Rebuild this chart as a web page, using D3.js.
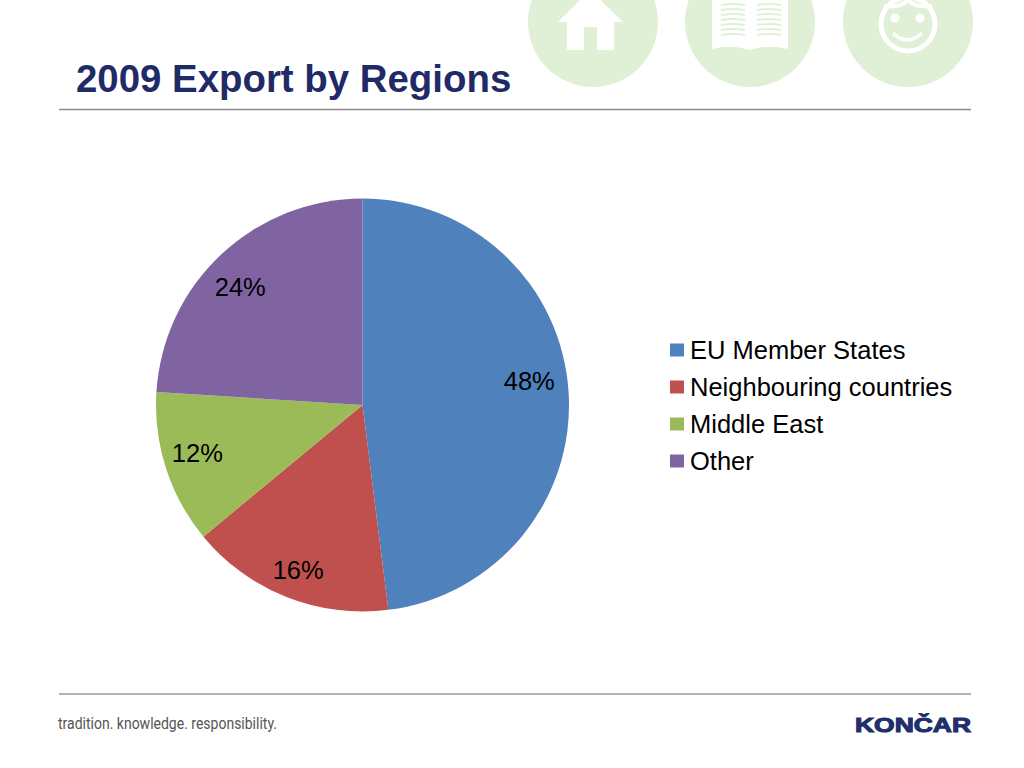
<!DOCTYPE html>
<html>
<head>
<meta charset="utf-8">
<script src="https://cdn.jsdelivr.net/npm/d3@7"></script>
<style>
html, body { margin: 0; padding: 0; background: #fff; }
svg { display: block; font-family: "Liberation Sans", Arial, sans-serif; }
</style>
</head>
<body>
<script>
var categories = ["EU Member States", "Neighbouring countries", "Middle East", "Other"];
var values = [48, 16, 12, 24];
var colors = ["#4f81bd", "#c0504d", "#9bbb59", "#8064a2"];

var width = 1024, height = 768;
var cx = 362.5, cy = 405, radius = 206.5;

var svg = d3.select("body").append("svg")
    .attr("width", width)
    .attr("height", height);

// header icons
var green = "#e0f0d6";
var icons = svg.append("g");
[593, 750, 908].forEach(function(x) {
    icons.append("circle").attr("cx", x).attr("cy", 22).attr("r", 65).attr("fill", green);
});
// house
icons.append("path")
    .attr("d", "M558,22 L590,-10 L623,22 L614,22 L614,50 L597,50 L597,27 L584,27 L584,50 L567,50 L567,22 Z")
    .attr("fill", "#fff");
// book
icons.append("path")
    .attr("d", "M712,-5 L788,-5 L788,49 Q770,44 750,50 Q730,44 712,49 Z")
    .attr("fill", "#fff");
var bookLines = icons.append("g").attr("stroke", green).attr("stroke-width", 1.8).attr("fill", "none");
[5, 10, 15, 20, 25, 30, 35].forEach(function(y) {
    bookLines.append("path").attr("d", "M721," + y + " Q733," + (y - 2) + " 745," + y);
    bookLines.append("path").attr("d", "M757," + y + " Q769," + (y - 2) + " 781," + y);
});
// face
icons.append("circle").attr("cx", 908).attr("cy", 24).attr("r", 27)
    .attr("fill", "none").attr("stroke", "#fff").attr("stroke-width", 5);
icons.append("circle").attr("cx", 895).attr("cy", 18).attr("r", 4.5).attr("fill", "#fff");
icons.append("circle").attr("cx", 920).attr("cy", 18).attr("r", 4.5).attr("fill", "#fff");
icons.append("path").attr("d", "M893,33 Q907,47 922,33")
    .attr("fill", "none").attr("stroke", "#fff").attr("stroke-width", 3.5);
icons.append("path").attr("d", "M884,6 Q900,8 908,0 Q916,8 932,6")
    .attr("fill", "none").attr("stroke", "#fff").attr("stroke-width", 4);

// title and rules
svg.append("text")
    .attr("x", 76).attr("y", 92)
    .attr("font-size", 38.4).attr("font-weight", "bold")
    .attr("fill", "#1f2a66")
    .text("2009 Export by Regions");

svg.append("line").attr("x1", 59).attr("x2", 971).attr("y1", 109.5).attr("y2", 109.5)
    .attr("stroke", "#8c8c8c").attr("stroke-width", 1.3);
svg.append("line").attr("x1", 59).attr("x2", 971).attr("y1", 694).attr("y2", 694)
    .attr("stroke", "#9a9a9a").attr("stroke-width", 1.3);

// pie
var pie = d3.pie().sort(null).value(function(d) { return d; });
var arc = d3.arc().innerRadius(0).outerRadius(radius);
var labelArc = d3.arc().innerRadius(radius * 0.78).outerRadius(radius * 0.78);
// nudges from the centroid, the labels were hand placed in the original
var labelNudge = [[6, -14], [-5, 15], [-12, -2], [-12, -1]];

var chart = svg.append("g").attr("transform", "translate(" + cx + "," + cy + ")");
chart.selectAll("path")
    .data(pie(values))
    .enter().append("path")
    .attr("d", arc)
    .attr("fill", function(d, i) { return colors[i]; });

chart.selectAll("text")
    .data(pie(values))
    .enter().append("text")
    .attr("transform", function(d, i) {
        var c = labelArc.centroid(d);
        return "translate(" + (c[0] + labelNudge[i][0]) + "," + (c[1] + labelNudge[i][1]) + ")";
    })
    .attr("text-anchor", "middle")
    .attr("dy", "0.36em")
    .attr("font-size", 25.5)
    .attr("fill", "#000")
    .text(function(d) { return d.data + "%"; });

// legend
var legendY = d3.scalePoint().domain(categories).range([350, 461]);
var legend = svg.append("g").selectAll("g")
    .data(categories)
    .enter().append("g")
    .attr("transform", function(d) { return "translate(670," + legendY(d) + ")"; });
legend.append("rect")
    .attr("x", 0).attr("y", -6.5)
    .attr("width", 14).attr("height", 13)
    .attr("fill", function(d, i) { return colors[i]; });
legend.append("text")
    .attr("x", 20).attr("y", 0)
    .attr("dy", "0.36em")
    .attr("font-size", 25.5)
    .attr("fill", "#000")
    .text(function(d) { return d; });

// footer
svg.append("text")
    .attr("x", 58).attr("y", 729)
    .attr("font-family", "Roboto, sans-serif")
    .attr("font-size", 16)
    .attr("fill", "#555")
    .attr("textLength", 219)
    .attr("lengthAdjust", "spacingAndGlyphs")
    .text("tradition. knowledge. responsibility.");

svg.append("text")
    .attr("x", 855).attr("y", 732)
    .attr("font-size", 21)
    .attr("font-weight", "bold")
    .attr("fill", "#1f2f6b")
    .attr("stroke", "#1f2f6b")
    .attr("stroke-width", 1.1)
    .attr("textLength", 116)
    .attr("lengthAdjust", "spacingAndGlyphs")
    .text("KONČAR");
</script>
</body>
</html>
